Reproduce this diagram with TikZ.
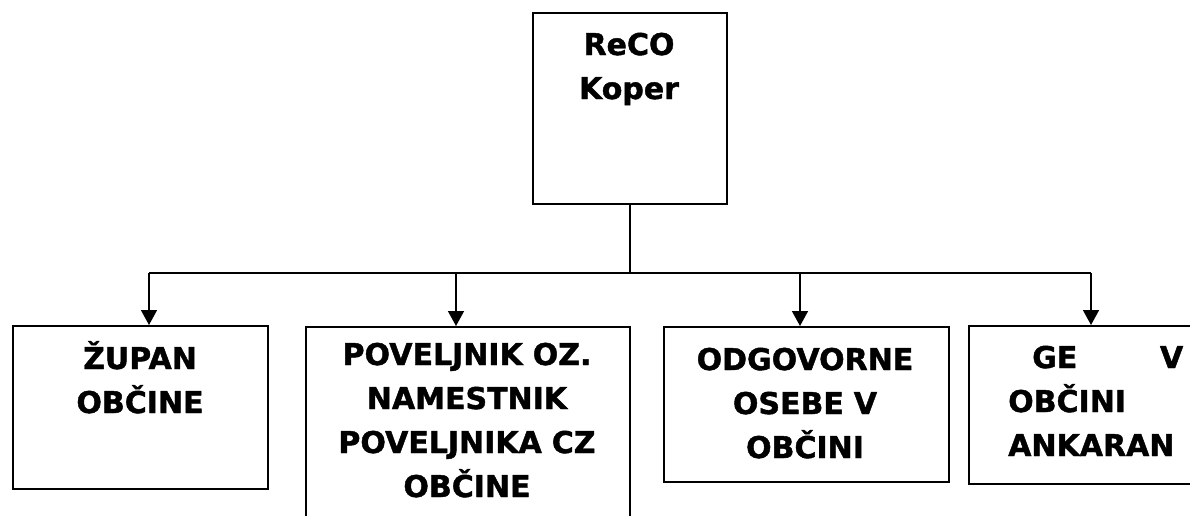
\documentclass[tikz,border=0pt]{standalone}
\usepackage{fontspec}
\setmainfont{DejaVu Sans}[BoldFeatures={FakeBold=1.4}]
\usepackage{tikz}
\usetikzlibrary{arrows.meta}
\usetikzlibrary{positioning}

\begin{document}
\begin{tikzpicture}
	[x=1pt, y=-1pt,
	> = {Triangle[width=16pt,length=15pt]},
	box/.style = {draw, line width=1.8pt, anchor=north west, inner sep=0pt},
	boxtext/.style = {anchor=base, inner sep=0pt, font=\fontsize{30}{44}\selectfont\bfseries},
	link/.style = {line width=1.5pt}
	]
	\clip (0,0) rectangle (1190,515);

	% boxes
	\node[box, minimum width=194, minimum height=191] (reco) at (532,12) {};
	\node[box, minimum width=255, minimum height=163] (zupan) at (12,325) {};
	\node[box, minimum width=324, minimum height=220] (poveljnik) at (305,326) {};
	\node[box, minimum width=285, minimum height=155] (osebe) at (663,326) {};
	\node[box, minimum width=246, minimum height=158] (ankaran) at (968,325) {};

	% texts
	\node[boxtext, text width=180, align=center] (reco text) at (629,55) {ReCO\\Koper};
	\node[boxtext, text width=230, align=center] (zupan text) at (140,369) {ŽUPAN\\OBČINE};
	\node[boxtext, text width=300, align=center] (poveljnik text) at (467,365) {POVELJNIK OZ.\\NAMESTNIK\\POVELJNIKA CZ\\OBČINE};
	\node[boxtext, text width=270, align=center] (osebe text) at (805,370) {ODGOVORNE\\OSEBE V\\OBČINI};
	\node[boxtext, text width=175, align=left, anchor=base west] (ankaran text) at (1008,368) {\hspace*{24pt}GE\hfill V\\OBČINI\\ANKARAN};

	% connectors
	\coordinate (split) at (reco.south |- 0,273);
	\coordinate (bus a) at (149,273);
	\coordinate (bus b) at (456,273);
	\coordinate (bus c) at (800,273);
	\coordinate (bus d) at (1091,273);

	\draw[link] (reco.south) -- (split);
	\draw[link] (bus a) -- (bus d);
	\draw[link,->] (bus a) -- (bus a |- zupan.north);
	\draw[link,->] (bus b) -- (bus b |- poveljnik.north);
	\draw[link,->] (bus c) -- (bus c |- osebe.north);
	\draw[link,->] (bus d) -- (bus d |- ankaran.north);
\end{tikzpicture}
\end{document}
